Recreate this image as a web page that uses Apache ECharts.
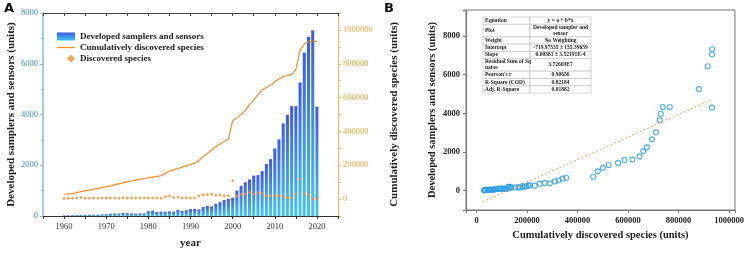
<!DOCTYPE html>
<html>
<head>
<meta charset="utf-8">
<script src="https://cdn.jsdelivr.net/npm/echarts@6/dist/echarts.min.js"></script>
<style>
  html, body { margin: 0; padding: 0; background: #fff; }
  #chart { width: 747px; height: 254px; }
</style>
</head>
<body>
<div id="chart"></div>
<script>
// years 1960..2020
const years = [];
for (let y = 1960; y <= 2020; y++) years.push(y);

// developed samplers and sensors (units), per year
const samplers = [
  20, 25, 30, 35, 40, 45, 50, 45, 50, 60,
  70, 90, 100, 90, 120, 110, 100, 90, 100, 100,
  190, 210, 160, 170, 170, 180, 170, 240, 200, 230,
  270, 280, 260, 360, 400, 380, 480, 540, 630, 670,
  720, 1000, 1180, 1330, 1440, 1590, 1610, 1770, 2050, 2240,
  2660, 3020, 3650, 3980, 4330, 4330, 5260, 6440, 7060, 7320,
  4300
];

// cumulatively discovered species (units)
const cumulative = [
  30000, 31000, 32000, 38000, 44000, 49000, 53000, 58000, 63000, 68000,
  73000, 78000, 84000, 90000, 96000, 102000, 107000, 112000, 117000, 121000,
  126000, 130000, 134000, 138000, 152000, 166000, 173000, 181000, 189000, 197000,
  205000, 211000, 230000, 250000, 270000, 290000, 310000, 325000, 340000, 355000,
  462000, 480000, 500000, 523000, 560000, 585000, 617000, 645000, 660000, 674000,
  694000, 710000, 725000, 729000, 737000, 765000, 880000, 915000, 932000, 933000,
  932000
];

// discovered species per year
const discovered = [
  4000, 4000, 5000, 6000, 9000, 5000, 5000, 6000, 5000, 6000,
  5000, 6000, 7000, 5000, 8000, 6000, 7000, 6000, 6000, 6000,
  7000, 6000, 6000, 5000, 14000, 18000, 10000, 12000, 7000, 8000,
  7000, 6000, 18000, 26000, 27000, 28000, 22000, 24000, 20000, 20000,
  108000, 18000, 28000, 28000, 40000, 30000, 37000, 34000, 18000, 20000,
  20000, 20000, 18000, 8000, 8000, 30000, 118000, 34000, 24000, 4000,
  4000
];

// linear fit end points, panel B
const fitX = [25000, 930000];
const fitY = [-575, 4700];

// fit summary table, panel B
const tableLabels = ['Equation', 'Plot', 'Weight', 'Intercept', 'Slope',
  'Residual Sum of Sq\nuares', "Pearson's r", 'R-Square (COD)', 'Adj. R-Square'];
const tableValues = ['y = a + b*x', 'Developed sampler and\nsensor', 'No Weighting',
  '-719.97535 ± 155.39659', '0.00581 ± 3.52191E-4', '3.72669E7', '0.90656', '0.82184', '0.81882'];

const serif = 'Liberation Serif';
const chart = echarts.init(document.getElementById('chart'));

// table graphic
const tbl = [];
const tx0 = 483, tx1 = 530, tx2 = 591;
let ty = 17;
tableLabels.forEach((lab, i) => {
  const h = lab.includes('\n') || tableValues[i].includes('\n') ? 12.5 : 7.3;
  tbl.push({ type: 'rect', shape: { x: tx0, y: ty, width: tx1 - tx0, height: h },
    style: { fill: '#fff', stroke: '#bbb', lineWidth: 0.6 } });
  tbl.push({ type: 'rect', shape: { x: tx1, y: ty, width: tx2 - tx1, height: h },
    style: { fill: '#fff', stroke: '#bbb', lineWidth: 0.6 } });
  tbl.push({ type: 'text', x: tx0 + 2, y: ty + h / 2,
    style: { text: lab, fontFamily: serif, fontWeight: 'bold', fontSize: 5.5, fill: '#222',
      verticalAlign: 'middle', lineHeight: 6 } });
  tbl.push({ type: 'text', x: (tx1 + tx2) / 2, y: ty + h / 2,
    style: { text: tableValues[i], fontFamily: serif, fontWeight: 'bold', fontSize: 5.5, fill: '#222',
      align: 'center', verticalAlign: 'middle', lineHeight: 6 } });
  ty += h;
});

const legendText = { fontFamily: serif, fontWeight: 'bold', fontSize: 9, color: '#222' };

chart.setOption({
  backgroundColor: '#fff',
  animation: false,
  grid: [
    { left: 43, top: 13, width: 295, height: 203 },
    { left: 466, top: 10, width: 271, height: 200, show: true, borderColor: '#777', borderWidth: 1 }
  ],
  legend: [
    { left: 52, top: 27, itemWidth: 18, itemHeight: 8, textStyle: legendText,
      data: [{ name: 'Developed samplers and sensors', icon: 'rect' }] },
    { left: 52, top: 38, itemWidth: 18, itemHeight: 8, textStyle: legendText,
      data: [{ name: 'Cumulatively discovered species', icon: 'path://M0,0L20,0L20,1.4L0,1.4Z' }] },
    { left: 62, top: 49, itemWidth: 8, itemHeight: 8, textStyle: legendText,
      data: [{ name: 'Discovered species', icon: 'diamond' }] }
  ],
  xAxis: [
    {
      gridIndex: 0, type: 'value', min: 1955, max: 2025, interval: 5,
      axisLine: { onZero: false, lineStyle: { color: '#333' } },
      axisTick: { length: 3, lineStyle: { color: '#333' } },
      axisLabel: { fontFamily: serif, fontSize: 8.5, color: '#333', margin: 6,
        formatter: v => (v % 10 === 0 && v >= 1960 && v <= 2020) ? String(v) : '' },
      splitLine: { show: false },
      name: 'year', nameLocation: 'middle', nameGap: 22,
      nameTextStyle: { fontFamily: serif, fontWeight: 'bold', fontSize: 11, color: '#222' }
    },
    {
      gridIndex: 0, type: 'value', min: 1955, max: 2025, interval: 5, position: 'top',
      axisLine: { onZero: false, lineStyle: { color: '#444' } },
      axisTick: { inside: true, length: 3, lineStyle: { color: '#444' } },
      axisLabel: { show: false }, splitLine: { show: false }
    },
    {
      gridIndex: 1, type: 'value', min: -42000, max: 1023000, splitNumber: 5,
      axisLine: { onZero: false, lineStyle: { color: '#777' } },
      axisTick: { length: 3, lineStyle: { color: '#777' } },
      axisLabel: { fontFamily: serif, fontWeight: 'bold', fontSize: 8.5, color: '#222', margin: 6,
        formatter: v => (v % 200000 === 0) ? String(v) : '' },
      splitLine: { show: false },
      name: 'Cumulatively discovered species (units)', nameLocation: 'middle', nameGap: 20,
      nameTextStyle: { fontFamily: serif, fontWeight: 'bold', fontSize: 10.5, color: '#222' }
    }
  ],
  yAxis: [
    {
      gridIndex: 0, type: 'value', min: 0, max: 8000, interval: 2000,
      axisLine: { show: true, onZero: false, lineStyle: { color: '#8bb8dc', width: 1.5 } },
      axisTick: { show: true, length: 3, lineStyle: { color: '#8bb8dc' } },
      minorTick: { show: true, splitNumber: 2, length: 2, lineStyle: { color: '#8bb8dc' } },
      axisLabel: { fontFamily: serif, fontSize: 8.5, color: '#3f8cc4', margin: 5,
        formatter: v => String(v) },
      splitLine: { show: false },
      name: 'Developed samplers and sensors (units)', nameLocation: 'middle', nameGap: 26,
      nameTextStyle: { fontFamily: serif, fontWeight: 'bold', fontSize: 11, color: '#222' }
    },
    {
      gridIndex: 0, type: 'value', min: -100000, max: 1100000, interval: 100000, position: 'right',
      axisLine: { show: true, onZero: false, lineStyle: { color: '#f5b866', width: 1.2 } },
      axisTick: { show: true, length: 3, lineStyle: { color: '#f5b866' } },
      axisLabel: { fontFamily: serif, fontSize: 8.5, color: '#f0a23c', margin: 5,
        formatter: v => (v >= 0 && v % 200000 === 0) ? String(v) : '' },
      splitLine: { show: false },
      name: 'Cumulatively discovered species (units)', nameLocation: 'middle', nameGap: 51,
      nameTextStyle: { fontFamily: serif, fontWeight: 'bold', fontSize: 11, color: '#222' }
    },
    {
      gridIndex: 1, type: 'value', min: -1000, max: 9350, splitNumber: 5,
      axisLine: { onZero: false, lineStyle: { color: '#777' } },
      axisTick: { length: 3, lineStyle: { color: '#777' } },
      axisLabel: { fontFamily: serif, fontWeight: 'bold', fontSize: 8.5, color: '#222', margin: 6,
        formatter: v => (v % 2000 === 0) ? String(v) : '' },
      splitLine: { show: false },
      name: 'Developed samplers and sensors (units)', nameLocation: 'middle', nameGap: 28,
      nameTextStyle: { fontFamily: serif, fontWeight: 'bold', fontSize: 10.5, color: '#222' }
    }
  ],
  series: [
    {
      name: 'Developed samplers and sensors', type: 'bar', xAxisIndex: 0, yAxisIndex: 0,
      barWidth: 3,
      itemStyle: {
        color: new echarts.graphic.LinearGradient(0, 0, 0, 1, [
          { offset: 0, color: '#3b58ec' }, { offset: 1, color: '#42c6f6' }
        ])
      },
      data: years.map((y, i) => [y, samplers[i]])
    },
    {
      name: 'Cumulatively discovered species', type: 'line', xAxisIndex: 0, yAxisIndex: 1,
      symbol: 'none', lineStyle: { color: '#f28d2a', width: 1.2 }, itemStyle: { color: '#f28d2a' },
      data: years.map((y, i) => [y, cumulative[i]])
    },
    {
      name: 'Discovered species', type: 'scatter', xAxisIndex: 0, yAxisIndex: 1,
      symbol: 'diamond', symbolSize: 3.5, itemStyle: { color: '#f08c2c' },
      data: years.map((y, i) => [y, discovered[i]])
    },
    {
      name: 'fit', type: 'line', xAxisIndex: 2, yAxisIndex: 2, symbol: 'none',
      lineStyle: { color: '#e89a4c', width: 1.1, type: [1.5, 2.5] },
      data: fitX.map((x, i) => [x, fitY[i]])
    },
    {
      name: 'points', type: 'scatter', xAxisIndex: 2, yAxisIndex: 2,
      symbol: 'circle', symbolSize: 5,
      itemStyle: { color: 'rgba(255,255,255,0)', borderColor: '#2a9ee2', borderWidth: 1.2 },
      data: years.map((y, i) => [cumulative[i], samplers[i]])
    }
  ],
  graphic: [
    { type: 'text', left: 4, top: 2, style: { text: 'A', fontFamily: 'DejaVu Sans', fontWeight: 'bold', fontSize: 13, fill: '#111' } },
    { type: 'text', left: 384, top: 2, style: { text: 'B', fontFamily: 'DejaVu Sans', fontWeight: 'bold', fontSize: 13, fill: '#111' } },
    { type: 'group', children: tbl }
  ]
});
</script>
</body>
</html>
